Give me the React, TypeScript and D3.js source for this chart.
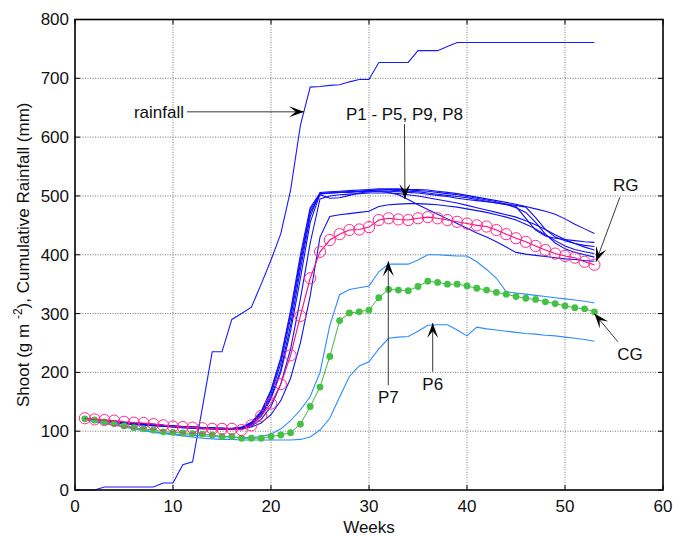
import React from "react";
import * as d3 from "d3";

const W = 673;
const H = 536;
const M = { left: 75, right: 663, top: 19.5, bottom: 490 };

const xTicks = [0, 10, 20, 30, 40, 50, 60];
const yTicks = [0, 100, 200, 300, 400, 500, 600, 700, 800];

const rainWeeks = d3.range(0, 54);
const weeks = d3.range(1, 54);

const rainfall = [0, 0, 0, 5, 5, 5, 5, 5, 5, 12, 12, 43, 48, 140, 235, 235, 290, 300, 311, 350, 391, 436, 510, 620, 685, 686, 688, 689, 694, 698, 698, 727, 727, 727, 727, 747, 747, 747, 754, 761, 761, 761, 761, 761, 761, 761, 761, 761, 761, 761, 761, 761, 761, 761];

const RG = [122, 120, 119, 118, 116, 114.5, 114, 112, 110, 108, 107, 106, 105, 104, 104, 104, 102, 110, 126, 147, 180, 229, 296, 360, 405, 425, 435, 442, 443, 447, 459, 462, 460, 459, 462, 464, 462, 459, 456, 453, 450, 448, 442, 435, 428, 422, 415, 408, 402, 398, 395, 388, 383];

const CG = [121, 119, 116, 113, 109, 106, 104, 102, 99, 98, 97, 96, 95, 93.5, 91, 91, 88, 88, 88, 91, 93.5, 97.5, 112, 142, 175, 227, 288, 301, 303, 306, 327, 341, 340, 339, 346, 355, 353, 350, 350, 347, 343, 340, 336, 333, 329, 326, 324, 320, 317, 313, 310, 308, 303];

const P7 = [120, 117, 114, 111, 108, 105, 102, 99, 97, 95, 94, 93, 92, 91, 90, 90, 89, 89, 91, 95, 104, 118, 136, 159, 200, 280, 332, 341, 344, 347, 371, 384, 384, 384, 391, 400, 400, 399, 398, 398, 388, 375, 360, 337, 335, 333, 331, 329, 327, 325, 323, 321, 318];

const P6 = [119, 116, 113, 110, 107, 104, 101, 98, 96, 94, 92, 90, 88, 87, 86, 86, 85, 85, 85, 85, 85, 85, 86, 90, 102, 122, 158, 193, 211, 218, 240, 258, 260, 261, 270, 280, 281, 281, 272, 262, 277, 274, 272, 270, 268, 266, 265, 263, 262, 260, 258, 256, 253];

const B1 = [121, 119, 117, 116, 114, 113, 112, 111, 110, 108, 107, 106, 106, 105, 105, 104, 106, 112, 127, 158, 205, 280, 375, 465, 506, 507, 508, 509, 510, 511, 512, 512, 512, 511, 511, 510, 508, 506, 504, 501, 498, 495, 492, 489, 486, 482, 478, 474, 469, 461, 452, 444, 436];
const B2 = [122, 120, 118, 116, 115, 114, 113, 112, 110, 109, 108, 107, 106, 106, 105, 105, 107, 115, 134, 170, 225, 305, 400, 480, 505, 505, 506, 507, 508, 509, 510, 510, 509, 508, 507, 505, 503, 501, 499, 497, 494, 491, 488, 485, 482, 462, 442, 432, 428, 426, 424, 422, 421];
const B3 = [121, 119, 117, 115, 114, 112, 111, 110, 109, 108, 107, 106, 105, 105, 104, 104, 106, 113, 130, 163, 215, 292, 385, 472, 502, 496, 497, 501, 505, 507, 508, 508, 507, 506, 505, 503, 501, 499, 496, 494, 492, 490, 488, 486, 484, 481, 463, 443, 430, 424, 419, 416, 414];
const B4 = [120, 118, 116, 115, 113, 112, 111, 110, 109, 107, 106, 105, 105, 104, 104, 103, 105, 109, 120, 142, 180, 240, 325, 420, 495, 500, 502, 503, 504, 505, 505, 505, 504, 502, 500, 497, 494, 491, 488, 484, 480, 476, 472, 468, 464, 458, 451, 443, 434, 426, 419, 413, 408];
const B5 = [120, 118, 116, 114, 113, 111, 110, 109, 108, 107, 106, 105, 104, 104, 103, 103, 104, 107, 114, 128, 152, 190, 250, 330, 430, 465, 468, 470, 472, 474, 482, 485, 486, 487, 487, 486, 485, 483, 481, 478, 475, 472, 468, 464, 459, 452, 444, 434, 424, 415, 409, 405, 402];
const B6 = [121, 119, 117, 116, 114, 113, 112, 111, 110, 108, 107, 107, 106, 105, 105, 104, 106, 114, 132, 168, 222, 300, 392, 476, 504, 505, 506, 506, 507, 508, 508, 506, 502, 494, 485, 477, 469, 461, 453, 445, 437, 430, 422, 413, 404, 401, 399, 397, 395, 393, 392, 390, 389];
const B7 = [122, 120, 118, 117, 115, 113, 112, 111, 110, 109, 108, 107, 106, 105, 105, 104, 105, 111, 125, 155, 200, 270, 360, 455, 503, 505, 506, 507, 508, 509, 510, 511, 511, 510, 509, 508, 506, 504, 502, 499, 496, 493, 490, 486, 480, 472, 455, 435, 420, 410, 404, 400, 396];

const blueSeries = [B1, B2, B3, B4, B5, B6, B7];

// annotations in data coordinates: label centre, arrow start, arrow tip
const annotations = [
  { text: "rainfall", lx: 8.57, ly: 643, sx: 11.43, sy: 643, tx: 23.37, ty: 643 },
  { text: "P1 - P5, P9, P8", lx: 33.62, ly: 639, sx: 33.62, sy: 622, tx: 33.67, ty: 495 },
  { text: "RG", lx: 56.19, ly: 518, sx: 55.6, sy: 498, tx: 53.16, ty: 388 },
  { text: "CG", lx: 56.63, ly: 231, sx: 55.4, sy: 252, tx: 53.0, ty: 300 },
  { text: "P7", lx: 31.97, ly: 158, sx: 31.97, sy: 178, tx: 31.97, ty: 389 },
  { text: "P6", lx: 36.5, ly: 180, sx: 36.5, sy: 201, tx: 36.5, ty: 284 },
];

const FONT = "'Liberation Sans', Arial, Helvetica, sans-serif";

export default function App() {
  const x = d3.scaleLinear().domain([0, 60]).range([M.left, M.right]);
  const y = d3.scaleLinear().domain([0, 800]).range([M.bottom, M.top]);

  const lineW = d3
    .line<number>()
    .x((_, i) => x(weeks[i]))
    .y((d) => y(d));
  const lineR = d3
    .line<number>()
    .x((_, i) => x(rainWeeks[i]))
    .y((d) => y(d));

  const arrowHead = (sx: number, sy: number, tx: number, ty: number) => {
    const dx = tx - sx;
    const dy = ty - sy;
    const len = Math.hypot(dx, dy);
    const ux = dx / len;
    const uy = dy / len;
    const nx = -uy;
    const ny = ux;
    const L = 15;
    const Wd = 5.5;
    const pts = [
      [tx, ty],
      [tx - L * ux + Wd * nx, ty - L * uy + Wd * ny],
      [tx - 0.55 * L * ux, ty - 0.55 * L * uy],
      [tx - L * ux - Wd * nx, ty - L * uy - Wd * ny],
    ];
    return pts.map((p) => p.join(",")).join(" ");
  };

  return (
    <svg width={W} height={H} style={{ display: "block", position: "absolute", left: 0, top: 0 }} fontFamily={FONT}>
      <rect x={0} y={0} width={W} height={H} fill="#fff" />
      {/* grid */}
      <g stroke="#555" strokeWidth={1} strokeDasharray="1,1.5" opacity={0.8}>
        {xTicks.slice(1, -1).map((t) => (
          <line key={"gx" + t} x1={x(t)} x2={x(t)} y1={M.top} y2={M.bottom} />
        ))}
        {yTicks.slice(1, -1).map((t) => (
          <line key={"gy" + t} x1={M.left} x2={M.right} y1={y(t)} y2={y(t)} />
        ))}
      </g>

      {/* rainfall */}
      <path d={lineR(rainfall) || ""} fill="none" stroke="#1a1aff" strokeWidth={1.1} />

      {/* P1-P5, P9, P8 */}
      {blueSeries.map((s, i) => (
        <path key={"b" + i} d={lineW(s) || ""} fill="none" stroke="#1010f5" strokeWidth={1.1} />
      ))}
      {/* P6, P7 */}
      <path d={lineW(P7) || ""} fill="none" stroke="#2b8cff" strokeWidth={1.1} />
      <path d={lineW(P6) || ""} fill="none" stroke="#2b8cff" strokeWidth={1.1} />

      {/* CG */}
      <path d={lineW(CG) || ""} fill="none" stroke="#3cb83c" strokeWidth={1} />
      {CG.map((v, i) => (
        <circle key={"cg" + i} cx={x(weeks[i])} cy={y(v)} r={3.4} fill="#44c044" />
      ))}

      {/* RG */}
      <path d={lineW(RG) || ""} fill="none" stroke="#ff0a7c" strokeWidth={1.1} />
      {RG.map((v, i) => (
        <circle key={"rg" + i} cx={x(weeks[i])} cy={y(v)} r={5.6} fill="none" stroke="#ff2a8c" strokeWidth={1} />
      ))}

      {/* annotations */}
      {annotations.map((a, i) => {
        const sx = x(a.sx), sy = y(a.sy), tx = x(a.tx), ty = y(a.ty);
        return (
          <g key={"a" + i}>
            <line x1={sx} y1={sy} x2={tx} y2={ty} stroke="#222" strokeWidth={0.9} />
            <polygon points={arrowHead(sx, sy, tx, ty)} fill="#000" />
            <text x={x(a.lx)} y={y(a.ly)} dy="0.35em" textAnchor="middle" fontSize={17} fill="#111">
              {a.text}
            </text>
          </g>
        );
      })}

      {/* axes box */}
      <rect x={M.left} y={M.top} width={M.right - M.left} height={M.bottom - M.top} fill="none" stroke="#000" strokeWidth={1.6} />
      {/* ticks */}
      <g stroke="#000" strokeWidth={1}>
        {xTicks.map((t) => (
          <g key={"tx" + t}>
            <line x1={x(t)} x2={x(t)} y1={M.bottom} y2={M.bottom - 5} />
            <line x1={x(t)} x2={x(t)} y1={M.top} y2={M.top + 5} />
          </g>
        ))}
        {yTicks.map((t) => (
          <g key={"ty" + t}>
            <line x1={M.left} x2={M.left + 5} y1={y(t)} y2={y(t)} />
            <line x1={M.right} x2={M.right - 5} y1={y(t)} y2={y(t)} />
          </g>
        ))}
      </g>
      {/* tick labels */}
      <g fontSize={17} fill="#111">
        {xTicks.map((t) => (
          <text key={"lx" + t} x={x(t)} y={M.bottom + 22} textAnchor="middle">
            {t}
          </text>
        ))}
        {yTicks.map((t) => (
          <text key={"ly" + t} x={M.left - 6} y={y(t)} dy="0.35em" textAnchor="end">
            {t}
          </text>
        ))}
      </g>
      {/* axis labels */}
      <text x={(M.left + M.right) / 2} y={533} textAnchor="middle" fontSize={17} fill="#111">
        Weeks
      </text>
      <text
        transform={`translate(29,${(M.top + M.bottom) / 2}) rotate(-90)`}
        textAnchor="middle"
        fontSize={17}
        fill="#111"
      >
        Shoot (g m <tspan dy={-7} fontSize={12}>-2</tspan>
        <tspan dy={7}>), Cumulative Rainfall (mm)</tspan>
      </text>
    </svg>
  );
}
